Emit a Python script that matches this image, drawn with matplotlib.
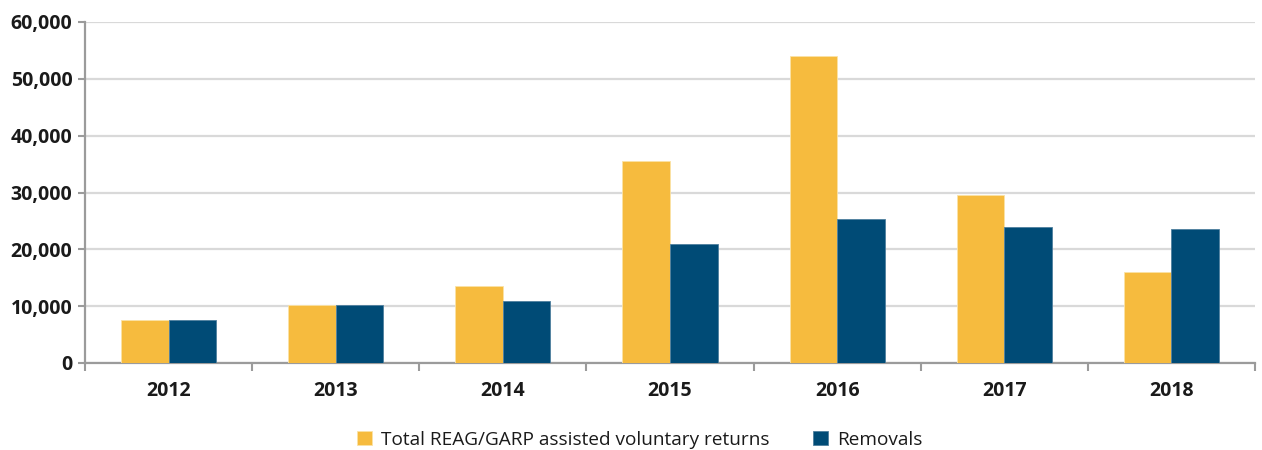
import matplotlib
matplotlib.use("Agg")
import matplotlib.pyplot as plt
import numpy as np
from matplotlib.ticker import FuncFormatter, FixedLocator

years = ["2012", "2013", "2014", "2015", "2016", "2017", "2018"]
reag_garp = [7559, 10251, 13574, 35514, 54069, 29522, 15962]
removals = [7651, 10198, 10884, 20888, 25375, 23966, 23617]
series_labels = ["Total REAG/GARP assisted voluntary returns", "Removals"]

plt.rcParams['font.family'] = ['Open Sans', 'DejaVu Sans']

fig = plt.figure(figsize=(12.62, 4.5), dpi=100)
ax = fig.add_axes([85/1262, 1 - 363/450, (1255-85)/1262, (363-22)/450])

x = np.arange(len(years))
w = 0.285
yellow = "#F6BB3E"
blue = "#004B76"
ax.bar(x - w/2, reag_garp, w, color=yellow, edgecolor="#FBE3A6", linewidth=0.6, label=series_labels[0], zorder=3)
ax.bar(x + w/2, removals, w, color=blue, edgecolor="#4F7F9E", linewidth=0.6, label=series_labels[1], zorder=3)

ax.set_xlim(-0.5, len(years) - 0.5)
ax.set_ylim(0, 60000)
ax.set_yticks(np.arange(0, 60001, 10000))
ax.yaxis.set_major_formatter(FuncFormatter(lambda v, p: f"{int(v):,}"))
ax.grid(axis='y', color="#D9D9D9", linewidth=1.6, zorder=0)
ax.set_axisbelow(True)

ax.set_xticks(x)
ax.set_xticklabels(years)
ax.xaxis.set_minor_locator(FixedLocator(np.arange(-0.5, len(years), 1.0)))
ax.tick_params(axis='x', which='major', length=0, pad=13)
ax.tick_params(axis='x', which='minor', length=6, width=1.5, color="#9B9B9B")
ax.tick_params(axis='y', length=5, width=1.5, color="#9B9B9B", pad=4)
for lab in ax.get_xticklabels() + ax.get_yticklabels():
    lab.set_fontweight('bold')
    lab.set_fontsize(14)
    lab.set_color("#1A1A1A")

for s in ['top', 'right']:
    ax.spines[s].set_visible(False)
for s in ['left', 'bottom']:
    ax.spines[s].set_color("#9B9B9B")
    ax.spines[s].set_linewidth(1.6)

leg = fig.legend(loc='center', bbox_to_anchor=(640/1262, 1 - 440/450), ncol=2, frameon=False,
                 fontsize=13.7, handlelength=0.75, handleheight=0.75, columnspacing=2.3, handletextpad=0.5)
for t in leg.get_texts():
    t.set_color("#1A1A1A")

fig.savefig("out.png", dpi=100)
